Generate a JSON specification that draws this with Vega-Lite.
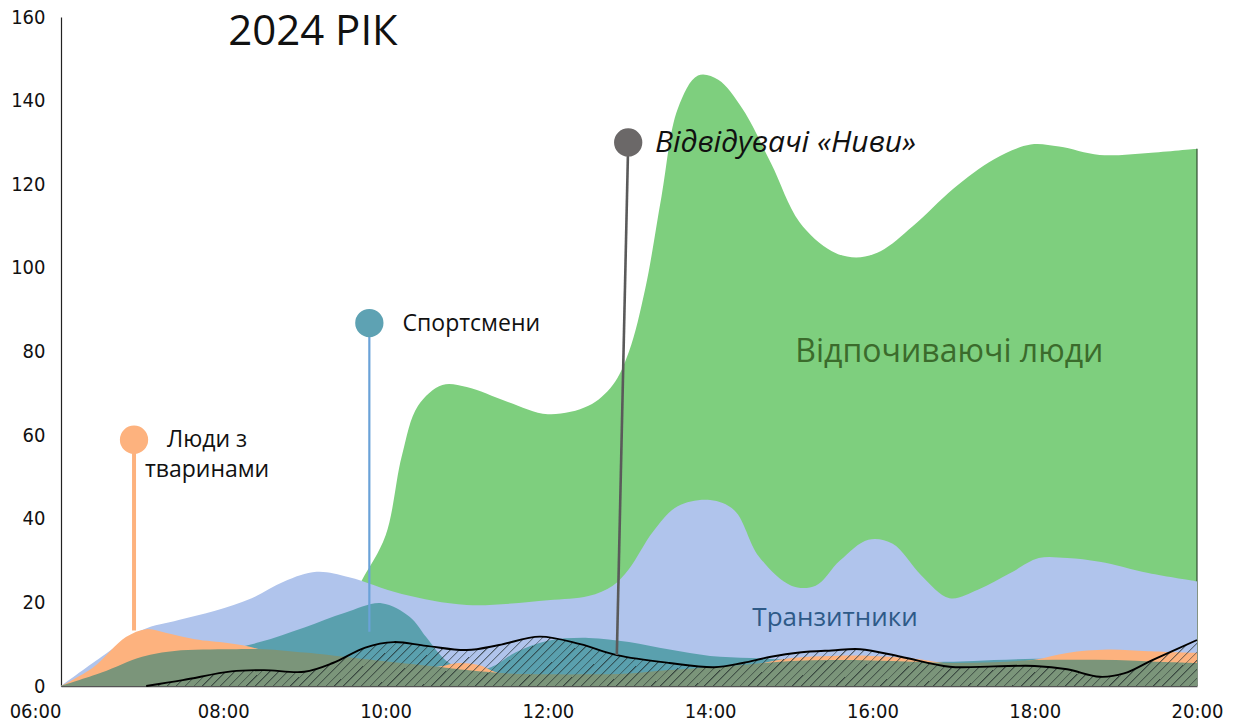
{
  "$schema": "https://vega.github.io/schema/vega-lite/v6.json",
  "width": 1136,
  "height": 669,
  "autosize": {"type": "none"},
  "padding": {"left": 61, "top": 17, "right": 51, "bottom": 36},
  "background": "white",
  "config": {"view": {"stroke": null}, "font": "Open Sans"},
  "datasets": {
    "flows": [
      {"group": "rest", "hour": 8.5, "value": 0},
      {"group": "rest", "hour": 9.0, "value": 4},
      {"group": "rest", "hour": 9.4, "value": 14},
      {"group": "rest", "hour": 9.7, "value": 25},
      {"group": "rest", "hour": 10.0, "value": 36},
      {"group": "rest", "hour": 10.2, "value": 55},
      {"group": "rest", "hour": 10.4, "value": 67},
      {"group": "rest", "hour": 10.7, "value": 72},
      {"group": "rest", "hour": 11.0, "value": 71.5},
      {"group": "rest", "hour": 11.5, "value": 68},
      {"group": "rest", "hour": 12.0, "value": 65},
      {"group": "rest", "hour": 12.5, "value": 67},
      {"group": "rest", "hour": 12.8, "value": 72},
      {"group": "rest", "hour": 13.0, "value": 80},
      {"group": "rest", "hour": 13.2, "value": 95},
      {"group": "rest", "hour": 13.4, "value": 117},
      {"group": "rest", "hour": 13.6, "value": 138},
      {"group": "rest", "hour": 13.85, "value": 146},
      {"group": "rest", "hour": 14.1, "value": 145},
      {"group": "rest", "hour": 14.4, "value": 138},
      {"group": "rest", "hour": 14.75, "value": 125},
      {"group": "rest", "hour": 15.1, "value": 111},
      {"group": "rest", "hour": 15.5, "value": 104},
      {"group": "rest", "hour": 15.8, "value": 102.5},
      {"group": "rest", "hour": 16.1, "value": 104},
      {"group": "rest", "hour": 16.5, "value": 110},
      {"group": "rest", "hour": 17.0, "value": 119},
      {"group": "rest", "hour": 17.5, "value": 126},
      {"group": "rest", "hour": 17.95, "value": 129.5},
      {"group": "rest", "hour": 18.3, "value": 129},
      {"group": "rest", "hour": 18.8, "value": 127},
      {"group": "rest", "hour": 19.4, "value": 127.5},
      {"group": "rest", "hour": 20.0, "value": 128.5},

      {"group": "transit", "hour": 6.0, "value": 0},
      {"group": "transit", "hour": 6.5, "value": 7},
      {"group": "transit", "hour": 7.0, "value": 13.4},
      {"group": "transit", "hour": 7.45, "value": 15.8},
      {"group": "transit", "hour": 7.9, "value": 18},
      {"group": "transit", "hour": 8.35, "value": 21},
      {"group": "transit", "hour": 8.75, "value": 25},
      {"group": "transit", "hour": 9.15, "value": 27.3},
      {"group": "transit", "hour": 9.55, "value": 26},
      {"group": "transit", "hour": 10.2, "value": 22},
      {"group": "transit", "hour": 11.0, "value": 19.4},
      {"group": "transit", "hour": 12.0, "value": 20.5},
      {"group": "transit", "hour": 12.5, "value": 21.5},
      {"group": "transit", "hour": 12.8, "value": 24},
      {"group": "transit", "hour": 13.0, "value": 28},
      {"group": "transit", "hour": 13.3, "value": 37},
      {"group": "transit", "hour": 13.6, "value": 43},
      {"group": "transit", "hour": 14.0, "value": 44.5},
      {"group": "transit", "hour": 14.3, "value": 42},
      {"group": "transit", "hour": 14.6, "value": 31},
      {"group": "transit", "hour": 15.0, "value": 24},
      {"group": "transit", "hour": 15.3, "value": 24},
      {"group": "transit", "hour": 15.6, "value": 30},
      {"group": "transit", "hour": 15.95, "value": 35},
      {"group": "transit", "hour": 16.25, "value": 34},
      {"group": "transit", "hour": 16.6, "value": 26.5},
      {"group": "transit", "hour": 16.95, "value": 21},
      {"group": "transit", "hour": 17.3, "value": 23},
      {"group": "transit", "hour": 17.7, "value": 27},
      {"group": "transit", "hour": 18.05, "value": 30.6},
      {"group": "transit", "hour": 18.4, "value": 30.6},
      {"group": "transit", "hour": 18.8, "value": 29.7},
      {"group": "transit", "hour": 19.4, "value": 27},
      {"group": "transit", "hour": 20.0, "value": 25},

      {"group": "sport", "hour": 6.0, "value": 0},
      {"group": "sport", "hour": 6.5, "value": 2.5},
      {"group": "sport", "hour": 7.0, "value": 5},
      {"group": "sport", "hour": 7.5, "value": 7},
      {"group": "sport", "hour": 8.0, "value": 8.5},
      {"group": "sport", "hour": 8.45, "value": 10.5},
      {"group": "sport", "hour": 9.0, "value": 14},
      {"group": "sport", "hour": 9.5, "value": 17.5},
      {"group": "sport", "hour": 9.95, "value": 19.8},
      {"group": "sport", "hour": 10.3, "value": 16.5},
      {"group": "sport", "hour": 10.5, "value": 11.7},
      {"group": "sport", "hour": 10.75, "value": 6},
      {"group": "sport", "hour": 11.0, "value": 3.8},
      {"group": "sport", "hour": 11.3, "value": 4.5},
      {"group": "sport", "hour": 11.6, "value": 8},
      {"group": "sport", "hour": 12.0, "value": 10.8},
      {"group": "sport", "hour": 12.5, "value": 11.5},
      {"group": "sport", "hour": 13.0, "value": 10.5},
      {"group": "sport", "hour": 13.5, "value": 8.7},
      {"group": "sport", "hour": 14.0, "value": 7.2},
      {"group": "sport", "hour": 14.5, "value": 6.7},
      {"group": "sport", "hour": 15.0, "value": 6.3},
      {"group": "sport", "hour": 15.5, "value": 6.2},
      {"group": "sport", "hour": 16.0, "value": 6},
      {"group": "sport", "hour": 16.5, "value": 5.8},
      {"group": "sport", "hour": 17.0, "value": 5.8},
      {"group": "sport", "hour": 17.5, "value": 6.2},
      {"group": "sport", "hour": 18.0, "value": 6.5},
      {"group": "sport", "hour": 18.5, "value": 6.5},
      {"group": "sport", "hour": 19.0, "value": 6.4},
      {"group": "sport", "hour": 19.5, "value": 6.3},
      {"group": "sport", "hour": 20.0, "value": 6.2},

      {"group": "pets", "hour": 6.0, "value": 0},
      {"group": "pets", "hour": 6.4, "value": 4.5},
      {"group": "pets", "hour": 6.8, "value": 11.7},
      {"group": "pets", "hour": 7.05, "value": 13.6},
      {"group": "pets", "hour": 7.3, "value": 12.7},
      {"group": "pets", "hour": 7.65, "value": 11.2},
      {"group": "pets", "hour": 8.05, "value": 10.3},
      {"group": "pets", "hour": 8.3, "value": 9.5},
      {"group": "pets", "hour": 8.6, "value": 8},
      {"group": "pets", "hour": 9.0, "value": 7},
      {"group": "pets", "hour": 9.5, "value": 6},
      {"group": "pets", "hour": 10.0, "value": 5},
      {"group": "pets", "hour": 10.6, "value": 4.5},
      {"group": "pets", "hour": 10.9, "value": 5.5},
      {"group": "pets", "hour": 11.15, "value": 5},
      {"group": "pets", "hour": 11.4, "value": 3},
      {"group": "pets", "hour": 11.7, "value": 2.5},
      {"group": "pets", "hour": 12.2, "value": 2.5},
      {"group": "pets", "hour": 13.0, "value": 2.8},
      {"group": "pets", "hour": 14.0, "value": 4.3},
      {"group": "pets", "hour": 14.5, "value": 5},
      {"group": "pets", "hour": 15.0, "value": 6.7},
      {"group": "pets", "hour": 15.5, "value": 7.2},
      {"group": "pets", "hour": 16.0, "value": 7.2},
      {"group": "pets", "hour": 16.5, "value": 6.6},
      {"group": "pets", "hour": 17.0, "value": 5.3},
      {"group": "pets", "hour": 17.5, "value": 5.3},
      {"group": "pets", "hour": 18.0, "value": 6.3},
      {"group": "pets", "hour": 18.4, "value": 7.9},
      {"group": "pets", "hour": 18.9, "value": 8.7},
      {"group": "pets", "hour": 19.4, "value": 8.3},
      {"group": "pets", "hour": 20.0, "value": 7.9},

      {"group": "other", "hour": 6.0, "value": 0},
      {"group": "other", "hour": 6.5, "value": 3.2},
      {"group": "other", "hour": 7.0, "value": 7},
      {"group": "other", "hour": 7.4, "value": 8.4},
      {"group": "other", "hour": 8.1, "value": 8.8},
      {"group": "other", "hour": 8.5, "value": 8.8},
      {"group": "other", "hour": 9.0, "value": 8},
      {"group": "other", "hour": 9.3, "value": 7.4},
      {"group": "other", "hour": 9.7, "value": 6.5},
      {"group": "other", "hour": 10.1, "value": 5.7},
      {"group": "other", "hour": 10.7, "value": 4.5},
      {"group": "other", "hour": 11.0, "value": 3.8},
      {"group": "other", "hour": 11.5, "value": 3},
      {"group": "other", "hour": 12.0, "value": 2.8},
      {"group": "other", "hour": 12.5, "value": 2.8},
      {"group": "other", "hour": 13.0, "value": 3},
      {"group": "other", "hour": 13.5, "value": 3.8},
      {"group": "other", "hour": 14.0, "value": 4.5},
      {"group": "other", "hour": 14.5, "value": 5.2},
      {"group": "other", "hour": 15.0, "value": 6},
      {"group": "other", "hour": 15.5, "value": 6.2},
      {"group": "other", "hour": 16.0, "value": 6.1},
      {"group": "other", "hour": 16.5, "value": 5.8},
      {"group": "other", "hour": 17.0, "value": 5.5},
      {"group": "other", "hour": 17.5, "value": 5.7},
      {"group": "other", "hour": 18.0, "value": 6.2},
      {"group": "other", "hour": 18.5, "value": 6.3},
      {"group": "other", "hour": 19.0, "value": 6.2},
      {"group": "other", "hour": 19.5, "value": 5.8},
      {"group": "other", "hour": 20.0, "value": 5.5},

      {"group": "nyva", "hour": 7.05, "value": 0},
      {"group": "nyva", "hour": 7.5, "value": 1.4},
      {"group": "nyva", "hour": 8.1, "value": 3.5},
      {"group": "nyva", "hour": 8.5, "value": 3.8},
      {"group": "nyva", "hour": 9.0, "value": 3.4},
      {"group": "nyva", "hour": 9.35, "value": 5.5},
      {"group": "nyva", "hour": 9.75, "value": 9.2},
      {"group": "nyva", "hour": 10.1, "value": 10.5},
      {"group": "nyva", "hour": 10.5, "value": 9.6},
      {"group": "nyva", "hour": 11.0, "value": 8.6},
      {"group": "nyva", "hour": 11.4, "value": 9.8},
      {"group": "nyva", "hour": 11.9, "value": 11.8},
      {"group": "nyva", "hour": 12.4, "value": 10},
      {"group": "nyva", "hour": 12.85, "value": 7.4},
      {"group": "nyva", "hour": 13.5, "value": 5.5},
      {"group": "nyva", "hour": 14.05, "value": 4.5},
      {"group": "nyva", "hour": 14.4, "value": 5.5},
      {"group": "nyva", "hour": 14.75, "value": 7},
      {"group": "nyva", "hour": 15.1, "value": 8},
      {"group": "nyva", "hour": 15.5, "value": 8.5},
      {"group": "nyva", "hour": 15.85, "value": 8.8},
      {"group": "nyva", "hour": 16.35, "value": 7},
      {"group": "nyva", "hour": 16.95, "value": 4.6},
      {"group": "nyva", "hour": 17.5, "value": 4.7},
      {"group": "nyva", "hour": 18.0, "value": 4.8},
      {"group": "nyva", "hour": 18.4, "value": 4},
      {"group": "nyva", "hour": 18.8, "value": 2.2},
      {"group": "nyva", "hour": 19.1, "value": 3},
      {"group": "nyva", "hour": 19.45, "value": 6.2},
      {"group": "nyva", "hour": 20.0, "value": 11}
    ],
    "markers": [
      {"group": "pets", "hour": 6.9, "value": 58.9, "hour2": 6.9, "value2": 13.3},
      {"group": "sport", "hour": 9.8, "value": 86.8, "hour2": 9.8, "value2": 13},
      {"group": "nyva", "hour": 12.99, "value": 130, "hour2": 12.85, "value2": 7.4}
    ],
    "edge": [
      {"hour": 20, "value": 0, "value2": 128.5}
    ]
  },
  "encoding": {
    "x": {
      "field": "hour",
      "type": "quantitative",
      "scale": {"domain": [6, 20], "nice": false, "zero": false},
      "axis": {
        "title": null,
        "values": [6, 8, 10, 12, 14, 16, 18, 20],
        "labelExpr": "(datum.value < 10 ? '0' : '') + datum.value + ':00'",
        "labelFlush": false,
        "labelAlign": {"condition": {"test": "datum.value == 6", "value": "right"}, "value": "center"},
        "labelFont": "Liberation Sans Narrow, DejaVu Sans Condensed, Roboto",
        "labelFontSize": 20,
        "labelColor": "#111111",
        "labelPadding": 15,
        "ticks": false,
        "grid": false,
        "domainColor": "#555555",
        "domainWidth": 1.5
      }
    },
    "y": {
      "field": "value",
      "type": "quantitative",
      "stack": null,
      "scale": {"domain": [0, 160], "nice": false},
      "axis": {
        "title": null,
        "values": [0, 20, 40, 60, 80, 100, 120, 140, 160],
        "labelFont": "Liberation Sans Narrow, DejaVu Sans Condensed, Roboto",
        "labelFontSize": 20,
        "labelColor": "#111111",
        "labelPadding": 16,
        "ticks": false,
        "grid": false,
        "domainColor": "#222222",
        "domainWidth": 1.2
      }
    }
  },
  "layer": [
    {
      "data": {"name": "flows"},
      "transform": [{"filter": "datum.group == 'rest'"}],
      "mark": {"type": "area", "interpolate": "catmull-rom", "color": "#7ecf7e", "opacity": 1}
    },
    {
      "data": {"name": "edge"},
      "mark": {"type": "rule", "color": "#2f4a2f", "strokeWidth": 1.2},
      "encoding": {"y2": {"field": "value2"}}
    },
    {
      "data": {"name": "flows"},
      "transform": [{"filter": "datum.group == 'transit'"}],
      "mark": {"type": "area", "interpolate": "catmull-rom", "color": "#b0c4ec", "opacity": 1}
    },
    {
      "data": {"name": "flows"},
      "transform": [{"filter": "datum.group == 'sport'"}],
      "mark": {"type": "area", "interpolate": "catmull-rom", "color": "#5aa0ae", "opacity": 1}
    },
    {
      "data": {"name": "flows"},
      "transform": [{"filter": "datum.group == 'pets'"}],
      "mark": {"type": "area", "interpolate": "catmull-rom", "color": "#fdb27e", "opacity": 1}
    },
    {
      "data": {"name": "flows"},
      "transform": [{"filter": "datum.group == 'other'"}],
      "mark": {"type": "area", "interpolate": "catmull-rom", "color": "#7b957a", "opacity": 1}
    },
    {
      "data": {"name": "flows"},
      "transform": [{"filter": "datum.group == 'nyva'"}],
      "mark": {
        "type": "area",
        "interpolate": "catmull-rom",
        "opacity": 1,
        "fill": {
          "gradient": "linear",
          "x1": 0, "y1": 0, "x2": 1.0452, "y2": 0.0498,
          "stops": [
            {"offset": 0, "color": "rgba(30,40,40,0.75)"}, {"offset": 0.002, "color": "rgba(30,40,40,0)"}, {"offset": 0.008, "color": "rgba(30,40,40,0)"},
            {"offset": 0.008, "color": "rgba(30,40,40,0.75)"}, {"offset": 0.01, "color": "rgba(30,40,40,0)"}, {"offset": 0.016, "color": "rgba(30,40,40,0)"},
            {"offset": 0.016, "color": "rgba(30,40,40,0.75)"}, {"offset": 0.018, "color": "rgba(30,40,40,0)"}, {"offset": 0.024, "color": "rgba(30,40,40,0)"},
            {"offset": 0.024, "color": "rgba(30,40,40,0.75)"}, {"offset": 0.026, "color": "rgba(30,40,40,0)"}, {"offset": 0.032, "color": "rgba(30,40,40,0)"},
            {"offset": 0.032, "color": "rgba(30,40,40,0.75)"}, {"offset": 0.034, "color": "rgba(30,40,40,0)"}, {"offset": 0.04, "color": "rgba(30,40,40,0)"},
            {"offset": 0.04, "color": "rgba(30,40,40,0.75)"}, {"offset": 0.042, "color": "rgba(30,40,40,0)"}, {"offset": 0.048, "color": "rgba(30,40,40,0)"},
            {"offset": 0.048, "color": "rgba(30,40,40,0.75)"}, {"offset": 0.05, "color": "rgba(30,40,40,0)"}, {"offset": 0.056, "color": "rgba(30,40,40,0)"},
            {"offset": 0.056, "color": "rgba(30,40,40,0.75)"}, {"offset": 0.058, "color": "rgba(30,40,40,0)"}, {"offset": 0.064, "color": "rgba(30,40,40,0)"},
            {"offset": 0.064, "color": "rgba(30,40,40,0.75)"}, {"offset": 0.066, "color": "rgba(30,40,40,0)"}, {"offset": 0.072, "color": "rgba(30,40,40,0)"},
            {"offset": 0.072, "color": "rgba(30,40,40,0.75)"}, {"offset": 0.074, "color": "rgba(30,40,40,0)"}, {"offset": 0.08, "color": "rgba(30,40,40,0)"},
            {"offset": 0.08, "color": "rgba(30,40,40,0.75)"}, {"offset": 0.082, "color": "rgba(30,40,40,0)"}, {"offset": 0.088, "color": "rgba(30,40,40,0)"},
            {"offset": 0.088, "color": "rgba(30,40,40,0.75)"}, {"offset": 0.09, "color": "rgba(30,40,40,0)"}, {"offset": 0.096, "color": "rgba(30,40,40,0)"},
            {"offset": 0.096, "color": "rgba(30,40,40,0.75)"}, {"offset": 0.098, "color": "rgba(30,40,40,0)"}, {"offset": 0.104, "color": "rgba(30,40,40,0)"},
            {"offset": 0.104, "color": "rgba(30,40,40,0.75)"}, {"offset": 0.106, "color": "rgba(30,40,40,0)"}, {"offset": 0.112, "color": "rgba(30,40,40,0)"},
            {"offset": 0.112, "color": "rgba(30,40,40,0.75)"}, {"offset": 0.114, "color": "rgba(30,40,40,0)"}, {"offset": 0.12, "color": "rgba(30,40,40,0)"},
            {"offset": 0.12, "color": "rgba(30,40,40,0.75)"}, {"offset": 0.122, "color": "rgba(30,40,40,0)"}, {"offset": 0.128, "color": "rgba(30,40,40,0)"},
            {"offset": 0.128, "color": "rgba(30,40,40,0.75)"}, {"offset": 0.13, "color": "rgba(30,40,40,0)"}, {"offset": 0.136, "color": "rgba(30,40,40,0)"},
            {"offset": 0.136, "color": "rgba(30,40,40,0.75)"}, {"offset": 0.138, "color": "rgba(30,40,40,0)"}, {"offset": 0.144, "color": "rgba(30,40,40,0)"},
            {"offset": 0.144, "color": "rgba(30,40,40,0.75)"}, {"offset": 0.146, "color": "rgba(30,40,40,0)"}, {"offset": 0.152, "color": "rgba(30,40,40,0)"},
            {"offset": 0.152, "color": "rgba(30,40,40,0.75)"}, {"offset": 0.154, "color": "rgba(30,40,40,0)"}, {"offset": 0.16, "color": "rgba(30,40,40,0)"},
            {"offset": 0.16, "color": "rgba(30,40,40,0.75)"}, {"offset": 0.162, "color": "rgba(30,40,40,0)"}, {"offset": 0.168, "color": "rgba(30,40,40,0)"},
            {"offset": 0.168, "color": "rgba(30,40,40,0.75)"}, {"offset": 0.17, "color": "rgba(30,40,40,0)"}, {"offset": 0.176, "color": "rgba(30,40,40,0)"},
            {"offset": 0.176, "color": "rgba(30,40,40,0.75)"}, {"offset": 0.178, "color": "rgba(30,40,40,0)"}, {"offset": 0.184, "color": "rgba(30,40,40,0)"},
            {"offset": 0.184, "color": "rgba(30,40,40,0.75)"}, {"offset": 0.186, "color": "rgba(30,40,40,0)"}, {"offset": 0.192, "color": "rgba(30,40,40,0)"},
            {"offset": 0.192, "color": "rgba(30,40,40,0.75)"}, {"offset": 0.194, "color": "rgba(30,40,40,0)"}, {"offset": 0.2, "color": "rgba(30,40,40,0)"},
            {"offset": 0.2, "color": "rgba(30,40,40,0.75)"}, {"offset": 0.202, "color": "rgba(30,40,40,0)"}, {"offset": 0.208, "color": "rgba(30,40,40,0)"},
            {"offset": 0.208, "color": "rgba(30,40,40,0.75)"}, {"offset": 0.21, "color": "rgba(30,40,40,0)"}, {"offset": 0.216, "color": "rgba(30,40,40,0)"},
            {"offset": 0.216, "color": "rgba(30,40,40,0.75)"}, {"offset": 0.218, "color": "rgba(30,40,40,0)"}, {"offset": 0.224, "color": "rgba(30,40,40,0)"},
            {"offset": 0.224, "color": "rgba(30,40,40,0.75)"}, {"offset": 0.226, "color": "rgba(30,40,40,0)"}, {"offset": 0.232, "color": "rgba(30,40,40,0)"},
            {"offset": 0.232, "color": "rgba(30,40,40,0.75)"}, {"offset": 0.234, "color": "rgba(30,40,40,0)"}, {"offset": 0.24, "color": "rgba(30,40,40,0)"},
            {"offset": 0.24, "color": "rgba(30,40,40,0.75)"}, {"offset": 0.242, "color": "rgba(30,40,40,0)"}, {"offset": 0.248, "color": "rgba(30,40,40,0)"},
            {"offset": 0.248, "color": "rgba(30,40,40,0.75)"}, {"offset": 0.25, "color": "rgba(30,40,40,0)"}, {"offset": 0.256, "color": "rgba(30,40,40,0)"},
            {"offset": 0.256, "color": "rgba(30,40,40,0.75)"}, {"offset": 0.258, "color": "rgba(30,40,40,0)"}, {"offset": 0.264, "color": "rgba(30,40,40,0)"},
            {"offset": 0.264, "color": "rgba(30,40,40,0.75)"}, {"offset": 0.266, "color": "rgba(30,40,40,0)"}, {"offset": 0.272, "color": "rgba(30,40,40,0)"},
            {"offset": 0.272, "color": "rgba(30,40,40,0.75)"}, {"offset": 0.274, "color": "rgba(30,40,40,0)"}, {"offset": 0.28, "color": "rgba(30,40,40,0)"},
            {"offset": 0.28, "color": "rgba(30,40,40,0.75)"}, {"offset": 0.282, "color": "rgba(30,40,40,0)"}, {"offset": 0.288, "color": "rgba(30,40,40,0)"},
            {"offset": 0.288, "color": "rgba(30,40,40,0.75)"}, {"offset": 0.29, "color": "rgba(30,40,40,0)"}, {"offset": 0.296, "color": "rgba(30,40,40,0)"},
            {"offset": 0.296, "color": "rgba(30,40,40,0.75)"}, {"offset": 0.298, "color": "rgba(30,40,40,0)"}, {"offset": 0.304, "color": "rgba(30,40,40,0)"},
            {"offset": 0.304, "color": "rgba(30,40,40,0.75)"}, {"offset": 0.306, "color": "rgba(30,40,40,0)"}, {"offset": 0.312, "color": "rgba(30,40,40,0)"},
            {"offset": 0.312, "color": "rgba(30,40,40,0.75)"}, {"offset": 0.314, "color": "rgba(30,40,40,0)"}, {"offset": 0.32, "color": "rgba(30,40,40,0)"},
            {"offset": 0.32, "color": "rgba(30,40,40,0.75)"}, {"offset": 0.322, "color": "rgba(30,40,40,0)"}, {"offset": 0.328, "color": "rgba(30,40,40,0)"},
            {"offset": 0.328, "color": "rgba(30,40,40,0.75)"}, {"offset": 0.33, "color": "rgba(30,40,40,0)"}, {"offset": 0.336, "color": "rgba(30,40,40,0)"},
            {"offset": 0.336, "color": "rgba(30,40,40,0.75)"}, {"offset": 0.338, "color": "rgba(30,40,40,0)"}, {"offset": 0.344, "color": "rgba(30,40,40,0)"},
            {"offset": 0.344, "color": "rgba(30,40,40,0.75)"}, {"offset": 0.346, "color": "rgba(30,40,40,0)"}, {"offset": 0.352, "color": "rgba(30,40,40,0)"},
            {"offset": 0.352, "color": "rgba(30,40,40,0.75)"}, {"offset": 0.354, "color": "rgba(30,40,40,0)"}, {"offset": 0.36, "color": "rgba(30,40,40,0)"},
            {"offset": 0.36, "color": "rgba(30,40,40,0.75)"}, {"offset": 0.362, "color": "rgba(30,40,40,0)"}, {"offset": 0.368, "color": "rgba(30,40,40,0)"},
            {"offset": 0.368, "color": "rgba(30,40,40,0.75)"}, {"offset": 0.37, "color": "rgba(30,40,40,0)"}, {"offset": 0.376, "color": "rgba(30,40,40,0)"},
            {"offset": 0.376, "color": "rgba(30,40,40,0.75)"}, {"offset": 0.378, "color": "rgba(30,40,40,0)"}, {"offset": 0.384, "color": "rgba(30,40,40,0)"},
            {"offset": 0.384, "color": "rgba(30,40,40,0.75)"}, {"offset": 0.386, "color": "rgba(30,40,40,0)"}, {"offset": 0.392, "color": "rgba(30,40,40,0)"},
            {"offset": 0.392, "color": "rgba(30,40,40,0.75)"}, {"offset": 0.394, "color": "rgba(30,40,40,0)"}, {"offset": 0.4, "color": "rgba(30,40,40,0)"},
            {"offset": 0.4, "color": "rgba(30,40,40,0.75)"}, {"offset": 0.402, "color": "rgba(30,40,40,0)"}, {"offset": 0.408, "color": "rgba(30,40,40,0)"},
            {"offset": 0.408, "color": "rgba(30,40,40,0.75)"}, {"offset": 0.41, "color": "rgba(30,40,40,0)"}, {"offset": 0.416, "color": "rgba(30,40,40,0)"},
            {"offset": 0.416, "color": "rgba(30,40,40,0.75)"}, {"offset": 0.418, "color": "rgba(30,40,40,0)"}, {"offset": 0.424, "color": "rgba(30,40,40,0)"},
            {"offset": 0.424, "color": "rgba(30,40,40,0.75)"}, {"offset": 0.426, "color": "rgba(30,40,40,0)"}, {"offset": 0.432, "color": "rgba(30,40,40,0)"},
            {"offset": 0.432, "color": "rgba(30,40,40,0.75)"}, {"offset": 0.434, "color": "rgba(30,40,40,0)"}, {"offset": 0.44, "color": "rgba(30,40,40,0)"},
            {"offset": 0.44, "color": "rgba(30,40,40,0.75)"}, {"offset": 0.442, "color": "rgba(30,40,40,0)"}, {"offset": 0.448, "color": "rgba(30,40,40,0)"},
            {"offset": 0.448, "color": "rgba(30,40,40,0.75)"}, {"offset": 0.45, "color": "rgba(30,40,40,0)"}, {"offset": 0.456, "color": "rgba(30,40,40,0)"},
            {"offset": 0.456, "color": "rgba(30,40,40,0.75)"}, {"offset": 0.458, "color": "rgba(30,40,40,0)"}, {"offset": 0.464, "color": "rgba(30,40,40,0)"},
            {"offset": 0.464, "color": "rgba(30,40,40,0.75)"}, {"offset": 0.466, "color": "rgba(30,40,40,0)"}, {"offset": 0.472, "color": "rgba(30,40,40,0)"},
            {"offset": 0.472, "color": "rgba(30,40,40,0.75)"}, {"offset": 0.474, "color": "rgba(30,40,40,0)"}, {"offset": 0.48, "color": "rgba(30,40,40,0)"},
            {"offset": 0.48, "color": "rgba(30,40,40,0.75)"}, {"offset": 0.482, "color": "rgba(30,40,40,0)"}, {"offset": 0.488, "color": "rgba(30,40,40,0)"},
            {"offset": 0.488, "color": "rgba(30,40,40,0.75)"}, {"offset": 0.49, "color": "rgba(30,40,40,0)"}, {"offset": 0.496, "color": "rgba(30,40,40,0)"},
            {"offset": 0.496, "color": "rgba(30,40,40,0.75)"}, {"offset": 0.498, "color": "rgba(30,40,40,0)"}, {"offset": 0.504, "color": "rgba(30,40,40,0)"},
            {"offset": 0.504, "color": "rgba(30,40,40,0.75)"}, {"offset": 0.506, "color": "rgba(30,40,40,0)"}, {"offset": 0.512, "color": "rgba(30,40,40,0)"},
            {"offset": 0.512, "color": "rgba(30,40,40,0.75)"}, {"offset": 0.514, "color": "rgba(30,40,40,0)"}, {"offset": 0.52, "color": "rgba(30,40,40,0)"},
            {"offset": 0.52, "color": "rgba(30,40,40,0.75)"}, {"offset": 0.522, "color": "rgba(30,40,40,0)"}, {"offset": 0.528, "color": "rgba(30,40,40,0)"},
            {"offset": 0.528, "color": "rgba(30,40,40,0.75)"}, {"offset": 0.53, "color": "rgba(30,40,40,0)"}, {"offset": 0.536, "color": "rgba(30,40,40,0)"},
            {"offset": 0.536, "color": "rgba(30,40,40,0.75)"}, {"offset": 0.538, "color": "rgba(30,40,40,0)"}, {"offset": 0.544, "color": "rgba(30,40,40,0)"},
            {"offset": 0.544, "color": "rgba(30,40,40,0.75)"}, {"offset": 0.546, "color": "rgba(30,40,40,0)"}, {"offset": 0.552, "color": "rgba(30,40,40,0)"},
            {"offset": 0.552, "color": "rgba(30,40,40,0.75)"}, {"offset": 0.554, "color": "rgba(30,40,40,0)"}, {"offset": 0.56, "color": "rgba(30,40,40,0)"},
            {"offset": 0.56, "color": "rgba(30,40,40,0.75)"}, {"offset": 0.562, "color": "rgba(30,40,40,0)"}, {"offset": 0.568, "color": "rgba(30,40,40,0)"},
            {"offset": 0.568, "color": "rgba(30,40,40,0.75)"}, {"offset": 0.57, "color": "rgba(30,40,40,0)"}, {"offset": 0.576, "color": "rgba(30,40,40,0)"},
            {"offset": 0.576, "color": "rgba(30,40,40,0.75)"}, {"offset": 0.578, "color": "rgba(30,40,40,0)"}, {"offset": 0.584, "color": "rgba(30,40,40,0)"},
            {"offset": 0.584, "color": "rgba(30,40,40,0.75)"}, {"offset": 0.586, "color": "rgba(30,40,40,0)"}, {"offset": 0.592, "color": "rgba(30,40,40,0)"},
            {"offset": 0.592, "color": "rgba(30,40,40,0.75)"}, {"offset": 0.594, "color": "rgba(30,40,40,0)"}, {"offset": 0.6, "color": "rgba(30,40,40,0)"},
            {"offset": 0.6, "color": "rgba(30,40,40,0.75)"}, {"offset": 0.602, "color": "rgba(30,40,40,0)"}, {"offset": 0.608, "color": "rgba(30,40,40,0)"},
            {"offset": 0.608, "color": "rgba(30,40,40,0.75)"}, {"offset": 0.61, "color": "rgba(30,40,40,0)"}, {"offset": 0.616, "color": "rgba(30,40,40,0)"},
            {"offset": 0.616, "color": "rgba(30,40,40,0.75)"}, {"offset": 0.618, "color": "rgba(30,40,40,0)"}, {"offset": 0.624, "color": "rgba(30,40,40,0)"},
            {"offset": 0.624, "color": "rgba(30,40,40,0.75)"}, {"offset": 0.626, "color": "rgba(30,40,40,0)"}, {"offset": 0.632, "color": "rgba(30,40,40,0)"},
            {"offset": 0.632, "color": "rgba(30,40,40,0.75)"}, {"offset": 0.634, "color": "rgba(30,40,40,0)"}, {"offset": 0.64, "color": "rgba(30,40,40,0)"},
            {"offset": 0.64, "color": "rgba(30,40,40,0.75)"}, {"offset": 0.642, "color": "rgba(30,40,40,0)"}, {"offset": 0.648, "color": "rgba(30,40,40,0)"},
            {"offset": 0.648, "color": "rgba(30,40,40,0.75)"}, {"offset": 0.65, "color": "rgba(30,40,40,0)"}, {"offset": 0.656, "color": "rgba(30,40,40,0)"},
            {"offset": 0.656, "color": "rgba(30,40,40,0.75)"}, {"offset": 0.658, "color": "rgba(30,40,40,0)"}, {"offset": 0.664, "color": "rgba(30,40,40,0)"},
            {"offset": 0.664, "color": "rgba(30,40,40,0.75)"}, {"offset": 0.666, "color": "rgba(30,40,40,0)"}, {"offset": 0.672, "color": "rgba(30,40,40,0)"},
            {"offset": 0.672, "color": "rgba(30,40,40,0.75)"}, {"offset": 0.674, "color": "rgba(30,40,40,0)"}, {"offset": 0.68, "color": "rgba(30,40,40,0)"},
            {"offset": 0.68, "color": "rgba(30,40,40,0.75)"}, {"offset": 0.682, "color": "rgba(30,40,40,0)"}, {"offset": 0.688, "color": "rgba(30,40,40,0)"},
            {"offset": 0.688, "color": "rgba(30,40,40,0.75)"}, {"offset": 0.69, "color": "rgba(30,40,40,0)"}, {"offset": 0.696, "color": "rgba(30,40,40,0)"},
            {"offset": 0.696, "color": "rgba(30,40,40,0.75)"}, {"offset": 0.698, "color": "rgba(30,40,40,0)"}, {"offset": 0.704, "color": "rgba(30,40,40,0)"},
            {"offset": 0.704, "color": "rgba(30,40,40,0.75)"}, {"offset": 0.706, "color": "rgba(30,40,40,0)"}, {"offset": 0.712, "color": "rgba(30,40,40,0)"},
            {"offset": 0.712, "color": "rgba(30,40,40,0.75)"}, {"offset": 0.714, "color": "rgba(30,40,40,0)"}, {"offset": 0.72, "color": "rgba(30,40,40,0)"},
            {"offset": 0.72, "color": "rgba(30,40,40,0.75)"}, {"offset": 0.722, "color": "rgba(30,40,40,0)"}, {"offset": 0.728, "color": "rgba(30,40,40,0)"},
            {"offset": 0.728, "color": "rgba(30,40,40,0.75)"}, {"offset": 0.73, "color": "rgba(30,40,40,0)"}, {"offset": 0.736, "color": "rgba(30,40,40,0)"},
            {"offset": 0.736, "color": "rgba(30,40,40,0.75)"}, {"offset": 0.738, "color": "rgba(30,40,40,0)"}, {"offset": 0.744, "color": "rgba(30,40,40,0)"},
            {"offset": 0.744, "color": "rgba(30,40,40,0.75)"}, {"offset": 0.746, "color": "rgba(30,40,40,0)"}, {"offset": 0.752, "color": "rgba(30,40,40,0)"},
            {"offset": 0.752, "color": "rgba(30,40,40,0.75)"}, {"offset": 0.754, "color": "rgba(30,40,40,0)"}, {"offset": 0.76, "color": "rgba(30,40,40,0)"},
            {"offset": 0.76, "color": "rgba(30,40,40,0.75)"}, {"offset": 0.762, "color": "rgba(30,40,40,0)"}, {"offset": 0.768, "color": "rgba(30,40,40,0)"},
            {"offset": 0.768, "color": "rgba(30,40,40,0.75)"}, {"offset": 0.77, "color": "rgba(30,40,40,0)"}, {"offset": 0.776, "color": "rgba(30,40,40,0)"},
            {"offset": 0.776, "color": "rgba(30,40,40,0.75)"}, {"offset": 0.778, "color": "rgba(30,40,40,0)"}, {"offset": 0.784, "color": "rgba(30,40,40,0)"},
            {"offset": 0.784, "color": "rgba(30,40,40,0.75)"}, {"offset": 0.786, "color": "rgba(30,40,40,0)"}, {"offset": 0.792, "color": "rgba(30,40,40,0)"},
            {"offset": 0.792, "color": "rgba(30,40,40,0.75)"}, {"offset": 0.794, "color": "rgba(30,40,40,0)"}, {"offset": 0.8, "color": "rgba(30,40,40,0)"},
            {"offset": 0.8, "color": "rgba(30,40,40,0.75)"}, {"offset": 0.802, "color": "rgba(30,40,40,0)"}, {"offset": 0.808, "color": "rgba(30,40,40,0)"},
            {"offset": 0.808, "color": "rgba(30,40,40,0.75)"}, {"offset": 0.81, "color": "rgba(30,40,40,0)"}, {"offset": 0.816, "color": "rgba(30,40,40,0)"},
            {"offset": 0.816, "color": "rgba(30,40,40,0.75)"}, {"offset": 0.818, "color": "rgba(30,40,40,0)"}, {"offset": 0.824, "color": "rgba(30,40,40,0)"},
            {"offset": 0.824, "color": "rgba(30,40,40,0.75)"}, {"offset": 0.826, "color": "rgba(30,40,40,0)"}, {"offset": 0.832, "color": "rgba(30,40,40,0)"},
            {"offset": 0.832, "color": "rgba(30,40,40,0.75)"}, {"offset": 0.834, "color": "rgba(30,40,40,0)"}, {"offset": 0.84, "color": "rgba(30,40,40,0)"},
            {"offset": 0.84, "color": "rgba(30,40,40,0.75)"}, {"offset": 0.842, "color": "rgba(30,40,40,0)"}, {"offset": 0.848, "color": "rgba(30,40,40,0)"},
            {"offset": 0.848, "color": "rgba(30,40,40,0.75)"}, {"offset": 0.85, "color": "rgba(30,40,40,0)"}, {"offset": 0.856, "color": "rgba(30,40,40,0)"},
            {"offset": 0.856, "color": "rgba(30,40,40,0.75)"}, {"offset": 0.858, "color": "rgba(30,40,40,0)"}, {"offset": 0.864, "color": "rgba(30,40,40,0)"},
            {"offset": 0.864, "color": "rgba(30,40,40,0.75)"}, {"offset": 0.866, "color": "rgba(30,40,40,0)"}, {"offset": 0.872, "color": "rgba(30,40,40,0)"},
            {"offset": 0.872, "color": "rgba(30,40,40,0.75)"}, {"offset": 0.874, "color": "rgba(30,40,40,0)"}, {"offset": 0.88, "color": "rgba(30,40,40,0)"},
            {"offset": 0.88, "color": "rgba(30,40,40,0.75)"}, {"offset": 0.882, "color": "rgba(30,40,40,0)"}, {"offset": 0.888, "color": "rgba(30,40,40,0)"},
            {"offset": 0.888, "color": "rgba(30,40,40,0.75)"}, {"offset": 0.89, "color": "rgba(30,40,40,0)"}, {"offset": 0.896, "color": "rgba(30,40,40,0)"},
            {"offset": 0.896, "color": "rgba(30,40,40,0.75)"}, {"offset": 0.898, "color": "rgba(30,40,40,0)"}, {"offset": 0.904, "color": "rgba(30,40,40,0)"},
            {"offset": 0.904, "color": "rgba(30,40,40,0.75)"}, {"offset": 0.906, "color": "rgba(30,40,40,0)"}, {"offset": 0.912, "color": "rgba(30,40,40,0)"},
            {"offset": 0.912, "color": "rgba(30,40,40,0.75)"}, {"offset": 0.914, "color": "rgba(30,40,40,0)"}, {"offset": 0.92, "color": "rgba(30,40,40,0)"},
            {"offset": 0.92, "color": "rgba(30,40,40,0.75)"}, {"offset": 0.922, "color": "rgba(30,40,40,0)"}, {"offset": 0.928, "color": "rgba(30,40,40,0)"},
            {"offset": 0.928, "color": "rgba(30,40,40,0.75)"}, {"offset": 0.93, "color": "rgba(30,40,40,0)"}, {"offset": 0.936, "color": "rgba(30,40,40,0)"},
            {"offset": 0.936, "color": "rgba(30,40,40,0.75)"}, {"offset": 0.938, "color": "rgba(30,40,40,0)"}, {"offset": 0.944, "color": "rgba(30,40,40,0)"},
            {"offset": 0.944, "color": "rgba(30,40,40,0.75)"}, {"offset": 0.946, "color": "rgba(30,40,40,0)"}, {"offset": 0.952, "color": "rgba(30,40,40,0)"},
            {"offset": 0.952, "color": "rgba(30,40,40,0.75)"}, {"offset": 0.954, "color": "rgba(30,40,40,0)"}, {"offset": 0.96, "color": "rgba(30,40,40,0)"},
            {"offset": 0.96, "color": "rgba(30,40,40,0.75)"}, {"offset": 0.962, "color": "rgba(30,40,40,0)"}, {"offset": 0.968, "color": "rgba(30,40,40,0)"},
            {"offset": 0.968, "color": "rgba(30,40,40,0.75)"}, {"offset": 0.97, "color": "rgba(30,40,40,0)"}, {"offset": 0.976, "color": "rgba(30,40,40,0)"},
            {"offset": 0.976, "color": "rgba(30,40,40,0.75)"}, {"offset": 0.978, "color": "rgba(30,40,40,0)"}, {"offset": 0.984, "color": "rgba(30,40,40,0)"},
            {"offset": 0.984, "color": "rgba(30,40,40,0.75)"}, {"offset": 0.986, "color": "rgba(30,40,40,0)"}, {"offset": 0.992, "color": "rgba(30,40,40,0)"},
            {"offset": 0.992, "color": "rgba(30,40,40,0.75)"}, {"offset": 0.994, "color": "rgba(30,40,40,0)"}, {"offset": 1, "color": "rgba(30,40,40,0)"}
          ]
        }
      }
    },
    {
      "data": {"name": "flows"},
      "transform": [{"filter": "datum.group == 'nyva'"}],
      "mark": {"type": "line", "interpolate": "catmull-rom", "color": "#000000", "strokeWidth": 1.9}
    },
    {
      "data": {"name": "markers"},
      "transform": [{"filter": "datum.group == 'pets'"}],
      "mark": {"type": "rule", "color": "#fdb27e", "strokeWidth": 4},
      "encoding": {"x2": {"field": "hour2"}, "y2": {"field": "value2"}}
    },
    {
      "data": {"name": "markers"},
      "transform": [{"filter": "datum.group == 'sport'"}],
      "mark": {"type": "rule", "color": "#6aa2d8", "strokeWidth": 2.2},
      "encoding": {"x2": {"field": "hour2"}, "y2": {"field": "value2"}}
    },
    {
      "data": {"name": "markers"},
      "transform": [{"filter": "datum.group == 'nyva'"}],
      "mark": {"type": "rule", "color": "#5a5a5a", "strokeWidth": 2.6},
      "encoding": {"x2": {"field": "hour2"}, "y2": {"field": "value2"}}
    },
    {
      "data": {"name": "markers"},
      "mark": {"type": "circle", "size": 800, "opacity": 1},
      "encoding": {
        "color": {
          "field": "group",
          "type": "nominal",
          "scale": {"domain": ["pets", "sport", "nyva"], "range": ["#fdb27e", "#5ea2b3", "#6b6868"]},
          "legend": null
        }
      }
    },
    {
      "data": {"values": [
        {"label": "Люди з", "hour": 7.8, "value": 58.9},
        {"label": "тваринами", "hour": 7.8, "value": 51.7}
      ]},
      "mark": {"type": "text", "align": "center", "baseline": "middle", "font": "Open Sans", "fontSize": 23, "color": "#111111"},
      "encoding": {"text": {"field": "label"}}
    },
    {
      "data": {"values": [
        {"label": "Спортсмени", "hour": 10.21, "value": 86.6}
      ]},
      "mark": {"type": "text", "align": "left", "baseline": "middle", "font": "Open Sans", "fontSize": 23, "color": "#111111"},
      "encoding": {"text": {"field": "label"}}
    },
    {
      "data": {"values": [
        {"label": "Відвідувачі «Ниви»", "hour": 13.32, "value": 129.9}
      ]},
      "mark": {"type": "text", "align": "left", "baseline": "middle", "font": "Open Sans", "fontStyle": "italic", "fontSize": 30, "color": "#111111"},
      "encoding": {"text": {"field": "label"}}
    },
    {
      "data": {"values": [
        {"label": "Відпочиваючі люди", "hour": 15.05, "value": 79.9}
      ]},
      "mark": {"type": "text", "align": "left", "baseline": "middle", "font": "Open Sans", "fontSize": 32, "color": "#3b6b2c"},
      "encoding": {"text": {"field": "label"}}
    },
    {
      "data": {"values": [
        {"label": "Транзитники", "hour": 14.52, "value": 16.3}
      ]},
      "mark": {"type": "text", "align": "left", "baseline": "middle", "font": "Open Sans", "fontSize": 26, "color": "#2e5a88"},
      "encoding": {"text": {"field": "label"}}
    },
    {
      "data": {"values": [
        {"label": "2024 РІК", "hour": 8.06, "value": 156.5}
      ]},
      "mark": {"type": "text", "align": "left", "baseline": "middle", "font": "Open Sans", "fontSize": 42, "color": "#111111"},
      "encoding": {"text": {"field": "label"}}
    }
  ]
}
